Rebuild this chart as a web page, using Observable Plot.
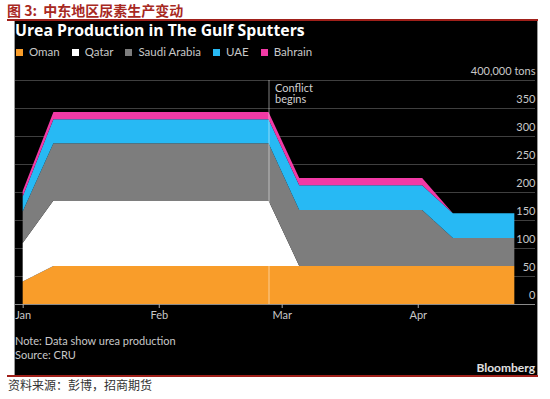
<!DOCTYPE html>
<html>
<head>
<meta charset="utf-8">
<script src="https://cdn.jsdelivr.net/npm/d3@7"></script>
<script src="https://cdn.jsdelivr.net/npm/@observablehq/plot@0.6"></script>
<style>
  html, body { margin: 0; padding: 0; background: #fff; }
  body { width: 550px; height: 399px; position: relative; overflow: hidden; font-family: Lato, "Open Sans", sans-serif; }
  .abs { position: absolute; }
  #cnTitle { left: 7px; top: 0px; font-family: "Noto Sans CJK SC"; font-weight: bold; font-size: 14px; color: #a8291f; line-height: 20px; white-space: nowrap; }
  .redline { left: 7px; width: 531px; height: 2px; background: #a0201a; }
  #panel { left: 14px; top: 21px; width: 522px; height: 354px; background: #000; border-left: 1px solid #9a9a9a; border-right: 1px solid #9a9a9a; }
  #title { left: 15px; top: 20px; font-family: "Open Sans"; font-weight: bold; font-size: 15.8px; color: #fff; line-height: 20px; white-space: nowrap; }
  #legend { left: 16px; top: 45px; display: flex; align-items: center; font-size: 11.5px; color: #c8c8c8; line-height: 14px; white-space: nowrap; }
  #legend .item { display: flex; align-items: center; margin-right: 12px; }
  #legend .sw { width: 7px; height: 7px; margin-right: 6px; }
  #chart { left: 15px; top: 62px; }
  #note { left: 15px; top: 334px; font-size: 11px; color: #c8c8c8; line-height: 14px; white-space: nowrap; }
  #brand { right: 15px; top: 361px; font-size: 12px; font-weight: bold; color: #e0e0e0; line-height: 14px; }
  #source { left: 8px; top: 377px; font-family: "Noto Sans CJK SC"; font-size: 12px; color: #333; line-height: 16px; white-space: nowrap; }
</style>
</head>
<body>
<div id="cnTitle" class="abs">图 3:&nbsp; 中东地区尿素生产变动</div>
<div class="abs redline" style="top:19px"></div>
<div id="panel" class="abs"></div>
<div id="title" class="abs">Urea Production in The Gulf Sputters</div>
<div id="legend" class="abs"></div>
<div id="chart" class="abs"></div>
<div id="note" class="abs">Note: Data show urea production<br>Source: CRU</div>
<div id="brand" class="abs">Bloomberg</div>
<div class="abs redline" style="top:375px"></div>
<div id="source" class="abs">资料来源：彭博，招商期货</div>
<script>
// ---- data ----
const dates = ["2026-01-01", "2026-01-08", "2026-02-26", "2026-03-05", "2026-04-02", "2026-04-09", "2026-04-23"];
const countries = ["Oman", "Qatar", "Saudi Arabia", "UAE", "Bahrain"];
const colors = ["#f99d2a", "#ffffff", "#7d7d7d", "#27b9f4", "#f23aa6"];
const oman    = [40, 68, 68, 68, 68, 68, 68];
const qatar   = [69, 117, 117, 0, 0, 0, 0];
const saudi   = [56, 102, 102, 100, 100, 50, 50];
const uae     = [27, 43, 43, 44, 44, 44, 44];
const bahrain = [10, 13, 13, 13, 13, 0, 0];
const yTicks = [0, 50, 100, 150, 200, 250, 300, 350, 400];
const monthTicks = ["2026-01-01", "2026-02-01", "2026-03-01", "2026-04-01"];
const eventDates = ["2026-02-26"];
const eventLabels = ["Conflict\nbegins"];

const series = [oman, qatar, saudi, uae, bahrain];
const rows = [];
countries.forEach((c, i) => dates.forEach((d, j) => rows.push({date: new Date(d), country: c, value: series[i][j]})));
const events = eventDates.map((d, i) => ({date: new Date(d), label: eventLabels[i]}));

// legend
const legend = document.getElementById("legend");
countries.forEach((c, i) => {
  const it = document.createElement("div");
  it.className = "item";
  it.innerHTML = `<span class="sw" style="background:${colors[i]}"></span><span>${c}</span>`;
  legend.appendChild(it);
});

const chart = Plot.plot({
  width: 522,
  height: 270,
  marginTop: 18,
  marginBottom: 28,
  marginLeft: 0,
  marginRight: 2,
  style: {background: "transparent", color: "#c8c8c8", fontFamily: "Lato, 'Open Sans', sans-serif", fontSize: "11px", overflow: "visible"},
  x: {type: "utc", domain: [new Date(Date.UTC(2025, 11, 30, 6)), new Date(Date.UTC(2026, 3, 27, 17))], label: null},
  y: {domain: [0, 400], label: null},
  color: {domain: countries, range: colors},
  marks: [
    Plot.ruleY(yTicks.filter(d => d > 0), {stroke: "#3f3f3f", strokeWidth: 1}),
    Plot.areaY(rows, {x: "date", y: "value", fill: "country", z: "country"}),
    Plot.ruleY([0], {stroke: "#8a8a8a", strokeWidth: 1.2}),
    Plot.ruleX(events, {x: "date", y1: 0, y2: 400, stroke: "#ffffff", strokeOpacity: 0.5, strokeWidth: 1}),
    Plot.text(events, {x: "date", y: 400, text: "label", textAnchor: "start", lineAnchor: "top", dx: 6, dy: 3, lineHeight: 1.05, fill: "#d0d0d0", fontSize: 11}),
    Plot.axisY({anchor: "right", label: null, ticks: yTicks, tickSize: 0, tickPadding: 0, textAnchor: "end", dy: -9, fill: "#c8c8c8", fontSize: 11,
      tickFormat: d => d === 400 ? "400,000 tons" : String(d)}),
    Plot.axisX({label: null, ticks: monthTicks.map(d => new Date(d)), tickFormat: d3.utcFormat("%b"), tickSize: 4, tickPadding: 3, stroke: "#aaaaaa", fill: "#c8c8c8", fontSize: 11})
  ]
});
document.getElementById("chart").appendChild(chart);
</script>
</body>
</html>
